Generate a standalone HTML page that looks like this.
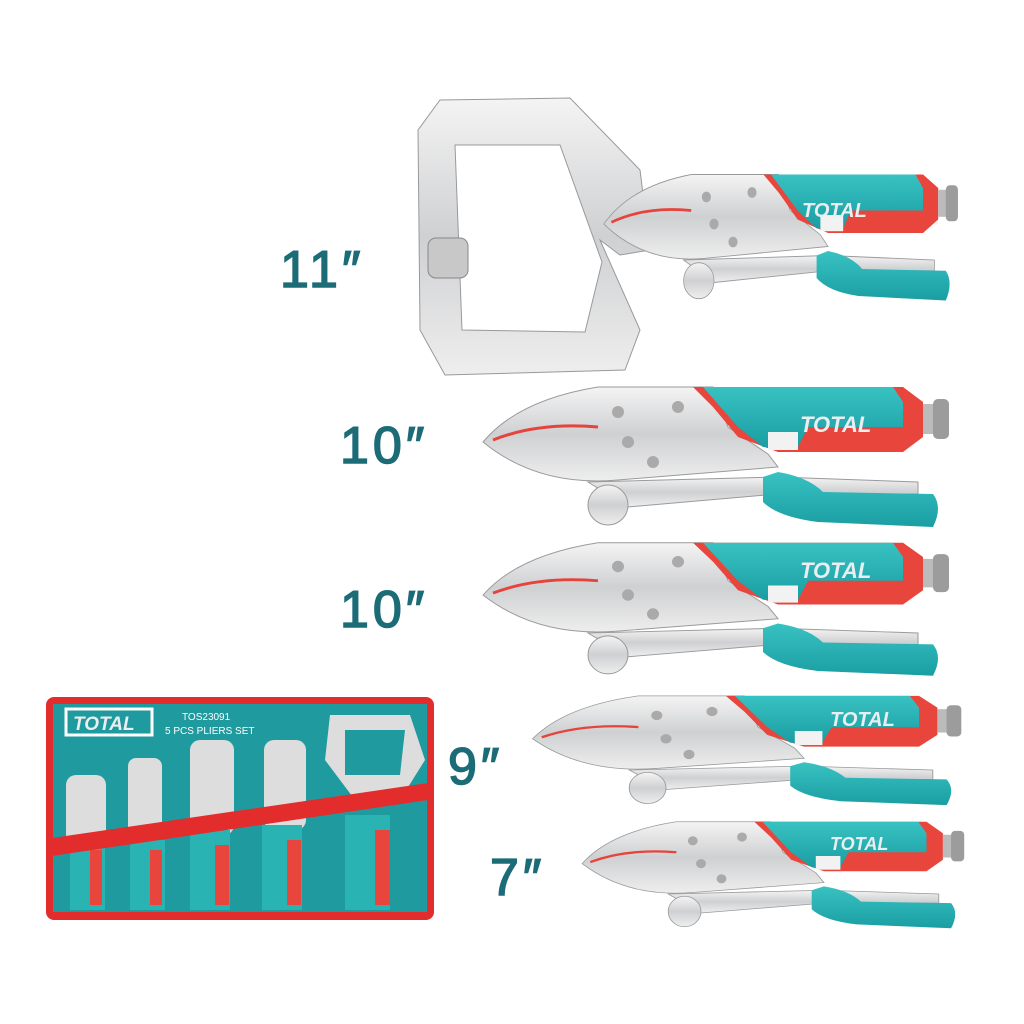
<!DOCTYPE html>
<html><head><meta charset="utf-8"><style>
html,body{margin:0;padding:0;background:#fff;width:1024px;height:1024px;overflow:hidden}
svg{display:block}
.lbl{font-family:"Liberation Sans",sans-serif;fill:#1c6c78;stroke:#1c6c78;stroke-width:1.5;font-size:52px;letter-spacing:4px}
.tt{font-family:"Liberation Sans",sans-serif;font-weight:bold;font-style:italic;fill:#e9eef0}
</style></head><body>
<svg width="1024" height="1024" viewBox="0 0 1024 1024" xmlns="http://www.w3.org/2000/svg">
<defs>
<linearGradient id="sil" x1="0" y1="0" x2="0" y2="1"><stop offset="0" stop-color="#f4f4f4"/><stop offset="0.5" stop-color="#cfd0d2"/><stop offset="1" stop-color="#eeeeee"/></linearGradient>
<linearGradient id="tea" x1="0" y1="0" x2="0" y2="1"><stop offset="0" stop-color="#39c2c2"/><stop offset="1" stop-color="#1a9ea3"/></linearGradient>
<g id="pl">
  <path d="M110,100 L300,95 L440,100 L440,112 L300,112 L150,125 Z" fill="url(#sil)" stroke="#9a9a9a"/>
  <circle cx="130" cy="123" r="20" fill="url(#sil)" stroke="#9a9a9a"/>
  <path d="M5,60 Q40,18 120,5 L235,5 L250,45 L290,72 L300,85 L140,98 Q60,105 5,60 Z" fill="url(#sil)" stroke="#9a9a9a"/>
  <path d="M15,58 Q60,40 120,45" stroke="#e5433b" stroke-width="3" fill="none"/>
  <circle cx="140" cy="30" r="6" fill="#aaa"/><circle cx="150" cy="60" r="6" fill="#aaa"/><circle cx="200" cy="25" r="6" fill="#aaa"/><circle cx="175" cy="80" r="6" fill="#aaa"/>
  <path d="M215,5 L425,5 L445,20 L445,55 L425,70 L300,70 L260,55 L235,25 Z" fill="#e8453c"/>
  <path d="M225,5 L415,5 L425,20 L425,45 L330,45 L320,65 L285,65 L260,45 Z" fill="url(#tea)"/>
  <rect x="290" y="50" width="30" height="18" fill="#f2f2f2"/>
  <rect x="445" y="22" width="12" height="30" fill="#bbb"/>
  <rect x="455" y="17" width="16" height="40" rx="5" fill="#9c9c9c"/>
  <path d="M285,95 L300,90 Q330,95 345,110 L455,112 Q465,125 455,145 L340,140 Q300,135 285,120 Z" fill="url(#tea)"/>
</g>
</defs>

<text class="lbl" x="280" y="287">11″</text>
<text class="lbl" x="340" y="463">10″</text>
<text class="lbl" x="340" y="627">10″</text>
<text class="lbl" x="448" y="784">9″</text>
<text class="lbl" x="490" y="895">7″</text>

<path d="M440,100 L570,98 L640,170 L650,250 L620,255 L600,240 L640,330 L625,370 L445,375 L420,330 L418,130 Z M455,145 L462,330 L585,332 L602,262 L560,145 Z" fill="url(#sil)" fill-rule="evenodd" stroke="#999"/>
<rect x="428" y="238" width="40" height="40" rx="8" fill="#c8c8c8" stroke="#888"/>
<g transform="translate(600,170) scale(0.76,0.9)"><use href="#pl"/></g>
<text class="tt" x="802" y="217" font-size="20">TOTAL</text>

<g transform="translate(478,382)"><use href="#pl"/></g>
<text class="tt" x="800" y="432" font-size="22">TOTAL</text>
<g transform="translate(478,538) scale(1,0.95)"><use href="#pl"/></g>
<text class="tt" x="800" y="578" font-size="22">TOTAL</text>
<g transform="translate(528,692) scale(0.92,0.78)"><use href="#pl"/></g>
<text class="tt" x="830" y="726" font-size="20">TOTAL</text>
<g transform="translate(578,818) scale(0.82,0.76)"><use href="#pl"/></g>
<text class="tt" x="830" y="850" font-size="18">TOTAL</text>

<rect x="46" y="697" width="388" height="223" rx="8" fill="#e32c2c"/>
<rect x="53" y="704" width="374" height="208" fill="#1f9a9e"/>
<rect x="66" y="709" width="86" height="26" fill="none" stroke="#fff" stroke-width="3"/>
<text class="tt" x="73" y="730" font-size="19" fill="#fff">TOTAL</text>
<text x="182" y="720" font-family="Liberation Sans,sans-serif" font-size="10" fill="#fff">TOS23091</text>
<text x="165" y="734" font-family="Liberation Sans,sans-serif" font-size="10" fill="#fff">5 PCS PLIERS SET</text>
<g fill="#ddd">
 <rect x="66" y="775" width="40" height="70" rx="10"/>
 <rect x="128" y="758" width="34" height="85" rx="8"/>
 <rect x="190" y="740" width="44" height="95" rx="10"/>
 <rect x="264" y="740" width="42" height="90" rx="10"/>
 <path d="M330,715 L410,715 L425,760 L400,800 L355,800 L325,760 Z M345,730 L345,775 L400,775 L405,730 Z" fill-rule="evenodd"/>
</g>
<g fill="#2ab3b3">
 <rect x="70" y="840" width="35" height="70"/><rect x="130" y="840" width="35" height="70"/>
 <rect x="190" y="830" width="40" height="80"/><rect x="262" y="825" width="40" height="85"/><rect x="345" y="815" width="45" height="95"/>
</g>
<g fill="#e8453c">
 <rect x="90" y="850" width="12" height="55"/><rect x="150" y="850" width="12" height="55"/><rect x="215" y="845" width="14" height="60"/><rect x="287" y="840" width="14" height="65"/><rect x="375" y="830" width="15" height="75"/>
</g>
<path d="M52,838 L428,783 L428,800 L52,856 Z" fill="#e32c2c"/>
</svg>
</body></html>
